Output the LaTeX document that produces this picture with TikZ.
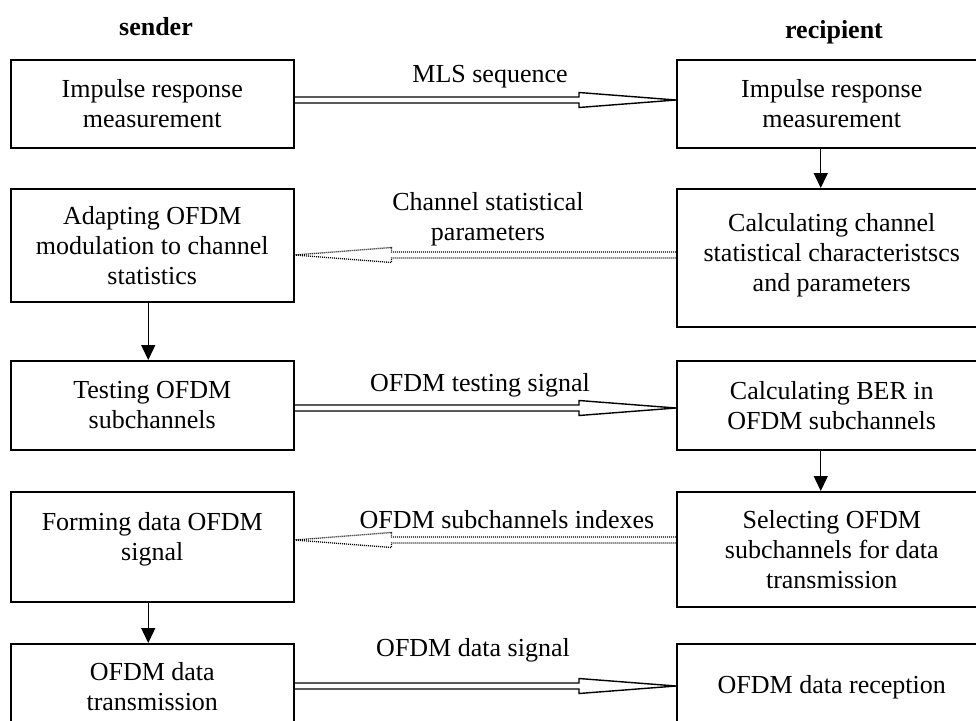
\documentclass[tikz,border=0pt]{standalone}
\usepackage{fontspec}
\setmainfont{Liberation Serif}
\usetikzlibrary{arrows.meta,calc}

\newcommand{\hollowarrow}[4]{%
	\draw[#1] ($(#2)+(0,-3)$) -- ($(#3)+(-97*#4,-3)$) -- ($(#3)+(-97*#4,-7.5)$) -- (#3)
		-- ($(#3)+(-97*#4,7.5)$) -- ($(#3)+(-97*#4,3)$) -- ($(#2)+(0,3)$);}

\begin{document}
\begin{tikzpicture}[x=1pt,y=-1pt,
	font=\fontsize{26}{30}\selectfont,
	lbox/.style={draw,line width=1.5pt,anchor=north west,align=center,minimum width=283pt,inner sep=0pt},
	rbox/.style={lbox,minimum width=310pt},
	flow/.style={line width=1.4pt,-{Triangle[length=15pt,width=14pt]}},
	solidarrow/.style={line width=1.4pt,line join=miter},
	dotarrow/.style={line width=1.3pt,dash pattern=on 1pt off 1pt}]
	\useasboundingbox (0,0) rectangle (976,720);
	\node[font=\fontsize{26}{30}\selectfont\bfseries] (snd) at (156,27) {sender};
	\node[font=\fontsize{26}{30}\selectfont\bfseries] (rcp) at (834,32) {recipient};

	\node[lbox,minimum height=88pt] (l1) at (10,59) {Impulse response\\measurement};
	\node[lbox,minimum height=113pt] (l2) at (10,188) {Adapting OFDM\\modulation to channel\\statistics};
	\node[lbox,minimum height=89pt] (l3) at (10,360) {Testing OFDM\\subchannels};
	\node[lbox,minimum height=110pt] (l4) at (10,491) {Forming data OFDM\\signal\\[-10pt]\mbox{}};
	\node[lbox,minimum height=86pt] (l5) at (10,643) {OFDM data\\transmission};

	\node[rbox,minimum height=88pt] (r1) at (676,59) {Impulse response\\measurement};
	\node[rbox,minimum height=138pt] (r2) at (676,188) {Calculating channel\\statistical characteristscs\\and parameters\\[-20pt]\mbox{}};
	\node[rbox,minimum height=89pt] (r3) at (676,360) {Calculating BER in\\OFDM subchannels};
	\node[rbox,minimum height=115pt] (r4) at (676,491) {Selecting OFDM\\subchannels for data\\transmission};
	\node[rbox,minimum height=86pt] (r5) at (676,643) {OFDM data reception};

	\coordinate (a1) at (l1.east |- 0,100);
	\coordinate (b1) at (r1.west |- 0,100);
	\coordinate (a2) at (r2.west |- 0,255);
	\coordinate (b2) at (l2.east |- 0,255);
	\coordinate (a3) at (l3.east |- 0,408);
	\coordinate (b3) at (r3.west |- 0,408);
	\coordinate (a4) at (r4.west |- 0,540);
	\coordinate (b4) at (l4.east |- 0,540);
	\coordinate (a5) at (l5.east |- 0,686);
	\coordinate (b5) at (r5.west |- 0,686);

	\hollowarrow{solidarrow}{a1}{b1}{1}
	\hollowarrow{dotarrow}{a2}{b2}{-1}
	\hollowarrow{solidarrow}{a3}{b3}{1}
	\hollowarrow{dotarrow}{a4}{b4}{-1}
	\hollowarrow{solidarrow}{a5}{b5}{1}

	\node (t1) at (490,77) {MLS sequence};
	\node[align=center] (t2) at (488,219) {Channel statistical\\parameters};
	\node (t3) at (480,385) {OFDM testing signal};
	\node (t4) at (507,520) {OFDM subchannels indexes};
	\node (t5) at (473,650) {OFDM data signal};

	\draw[flow] ([xshift=-4pt]l2.south) -- ([xshift=-4pt]l3.north);
	\draw[flow] ([xshift=-4pt]l4.south) -- ([xshift=-4pt]l5.north);
	\draw[flow] ([xshift=-11pt]r1.south) -- ([xshift=-11pt]r2.north);
	\draw[flow] ([xshift=-11pt]r3.south) -- ([xshift=-11pt]r4.north);
\end{tikzpicture}
\end{document}
